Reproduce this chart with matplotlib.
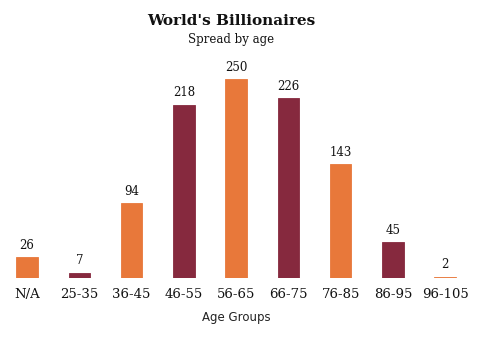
import matplotlib
matplotlib.use("Agg")
import matplotlib.pyplot as plt

categories = ["N/A", "25-35", "36-45", "46-55", "56-65", "66-75", "76-85", "86-95", "96-105"]
values = [26, 7, 94, 218, 250, 226, 143, 45, 2]
orange = "#E8783A"
maroon = "#86293E"
colors = [orange if i % 2 == 0 else maroon for i in range(len(values))]

fig = plt.figure(figsize=(4.96, 3.40), dpi=100)
ax = fig.add_axes([0.002, 0.182, 0.948, 0.641])
x = range(len(categories))
bars = ax.bar(x, values, width=0.41, color=colors, edgecolor=colors, linewidth=0.6)
for xi, v in zip(x, values):
    ax.annotate(str(v), (xi, v), xytext=(0, 4), textcoords="offset points",
                ha="center", va="bottom", family="DejaVu Serif", fontsize=8.5, color="#111111")
ax.set_xlim(-0.5, len(categories) - 0.5)
ax.set_ylim(0, 274)
ax.set_xticks(list(x))
ax.set_xticklabels(categories, family="DejaVu Serif", fontsize=9.5, color="#111111")
ax.tick_params(axis="x", length=0, pad=7)
ax.set_yticks([])
for s in ax.spines.values():
    s.set_visible(False)
ax.set_xlabel("Age Groups", family="DejaVu Sans", fontsize=8.5, color="#222222", labelpad=7)

fig.text(0.466, 0.938, "World's Billionaires", ha="center", va="center",
         family="DejaVu Serif", fontweight="bold", fontsize=11, color="#111111")
fig.text(0.466, 0.885, "Spread by age", ha="center", va="center",
         family="DejaVu Serif", fontsize=8.5, color="#111111")

fig.savefig("out.png", dpi=100)
